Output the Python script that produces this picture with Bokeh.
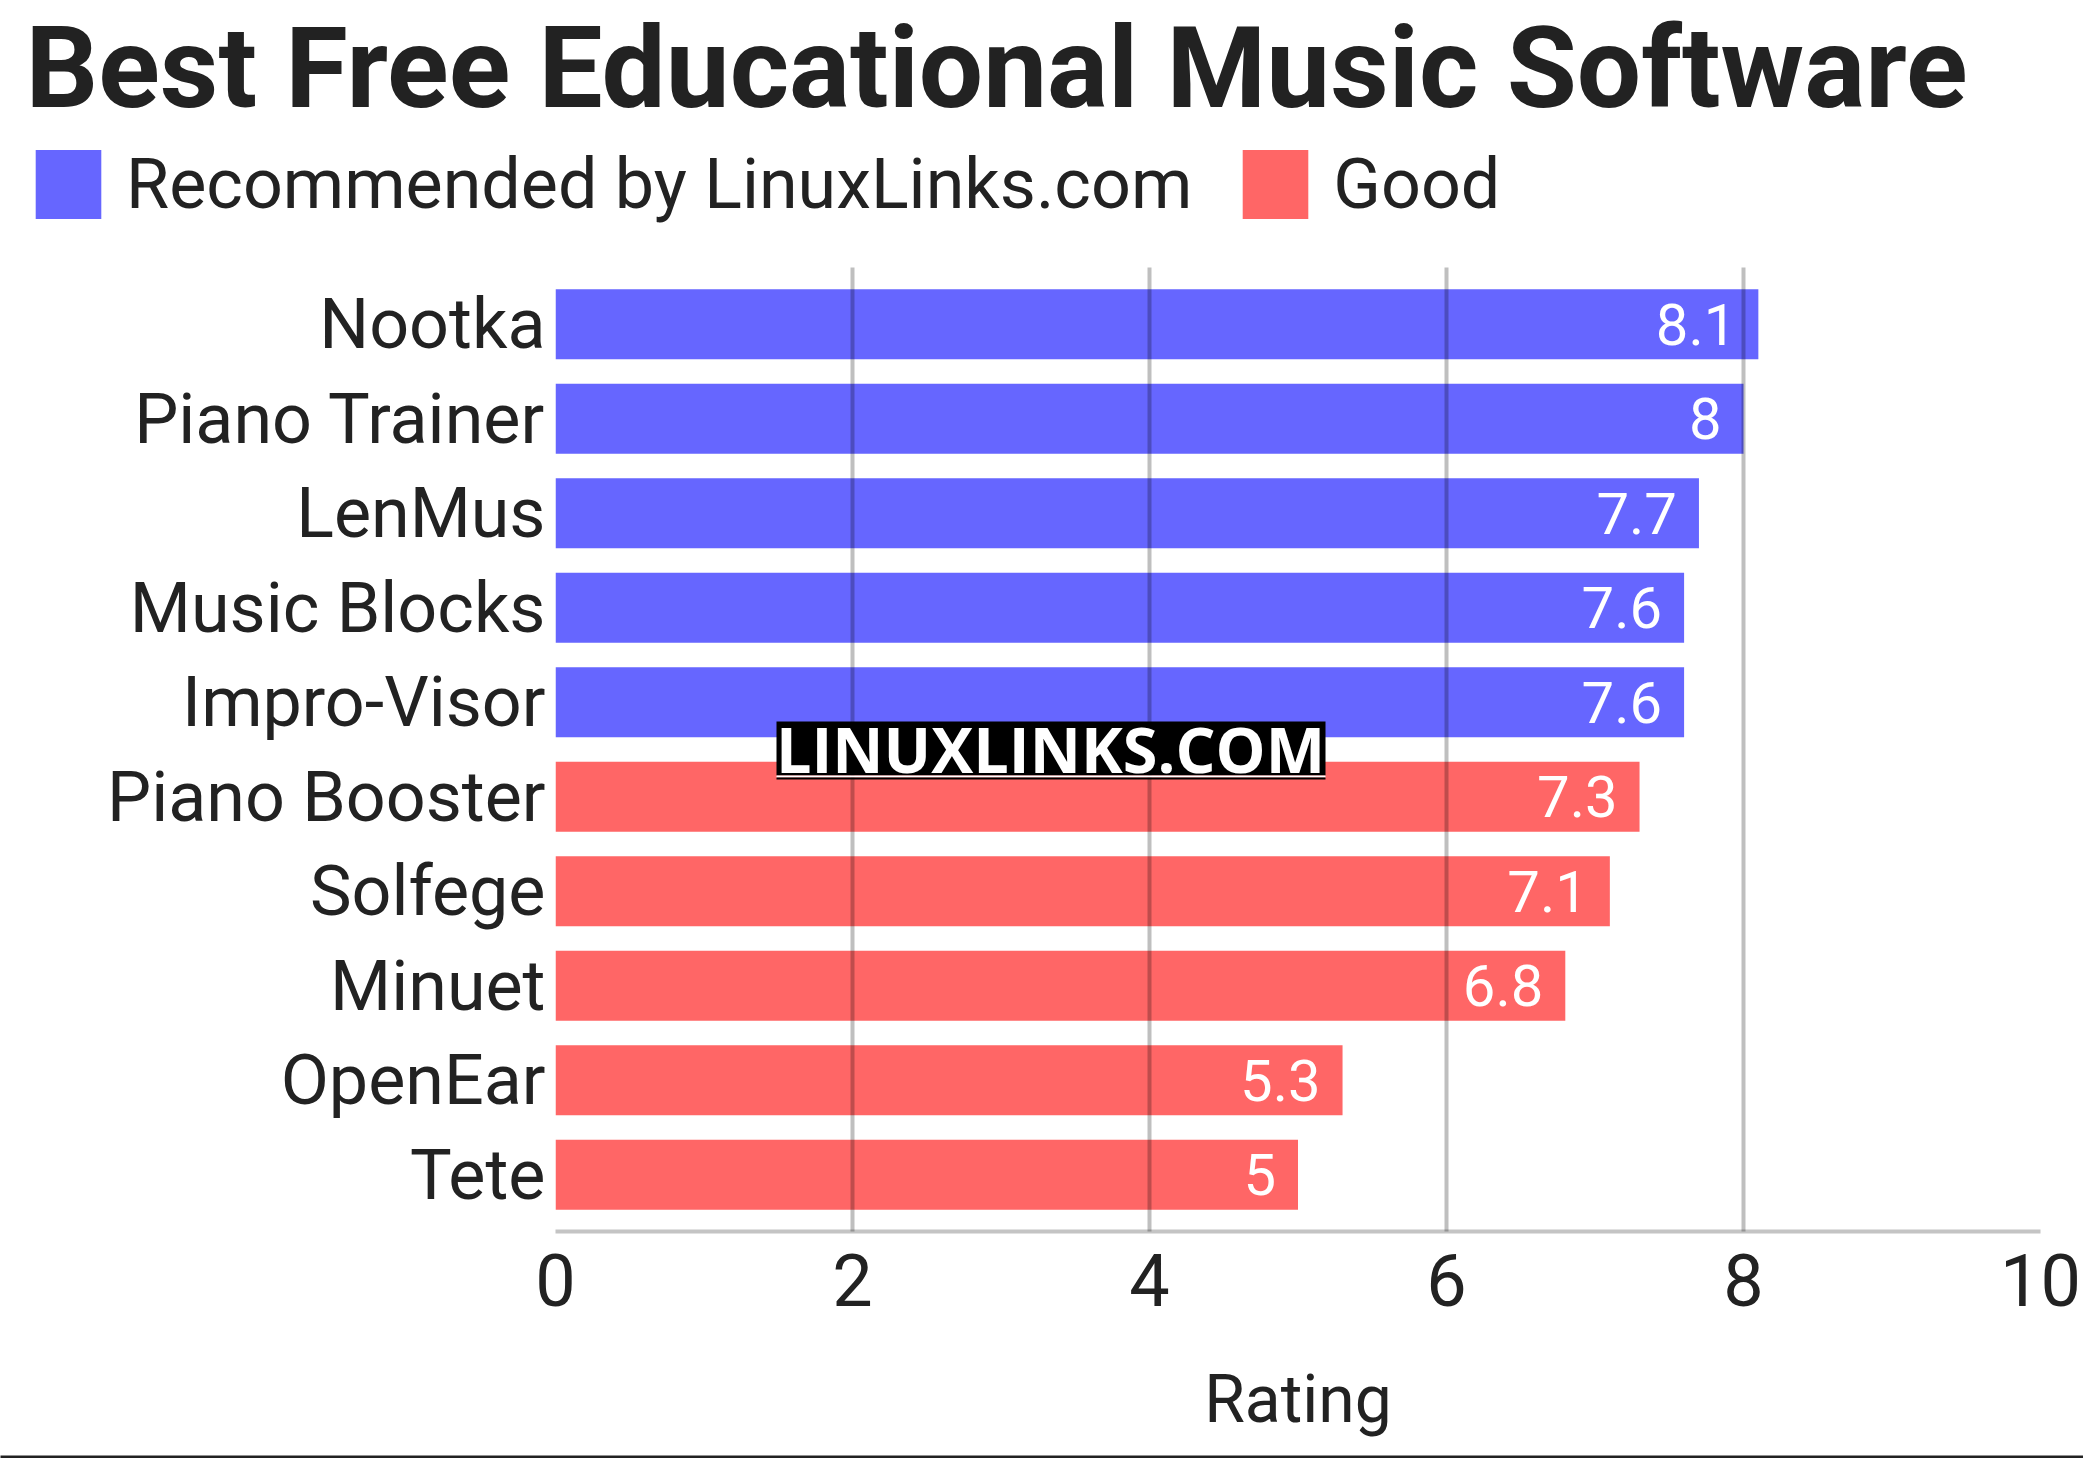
from bokeh.plotting import figure
from bokeh.models import (ColumnDataSource, FactorRange, Range1d, LabelSet, Label,
                          Legend, LegendItem, FixedTicker, BoxAnnotation)
from bokeh.core.properties import value
from bokeh.layouts import column
from bokeh.embed import file_html
from bokeh.resources import INLINE

# ---- data ----
names = ["Nootka", "Piano Trainer", "LenMus", "Music Blocks", "Impro-Visor",
         "Piano Booster", "Solfege", "Minuet", "OpenEar", "Tete"]
ratings = [8.1, 8, 7.7, 7.6, 7.6, 7.3, 7.1, 6.8, 5.3, 5]
groups = ["Recommended by LinuxLinks.com"] * 5 + ["Good"] * 5
x_ticks = [0, 2, 4, 6, 8, 10]
title_text = "Best Free Educational Music Software"
x_label = "Rating"
watermark = "LINUXLINKS.COM"

FONT = "Roboto"
BLUE = "#6666ff"
RED = "#ff6666"
TXT = "#222222"

W = 2083
T = 240            # header figure height
H = 1200           # main figure height
R = 18             # bottom rule figure height
FL, FR, FT, FB = 555, 2040, 27, 991


def bare(fig):
    fig.frame_align = False
    fig.min_border_left = fig.min_border_right = 0
    fig.min_border_top = fig.min_border_bottom = 0
    fig.outline_line_color = None
    fig.grid.visible = False


# ---------------- header (title + legend) ----------------
top = figure(width=W, height=T, output_backend="svg", toolbar_location=None,
             x_range=Range1d(0, W), y_range=Range1d(0, T),
             x_axis_location=None, y_axis_location=None, min_border=0)
bare(top)
top.border_fill_color = "white"

# zero-size swatch renderers used only for the legend keys
lr1 = top.hbar(y=[0], left=[0], right=[0], height=0, fill_color=BLUE, line_color=None)
lr2 = top.hbar(y=[0], left=[0], right=[0], height=0, fill_color=RED, line_color=None)

top.add_layout(Label(x=25, y=173, text=title_text, text_font=FONT,
                     text_font_style="bold", text_font_size="114px",
                     text_color=TXT, text_baseline="alphabetic", text_align="left"))

legend = Legend(items=[LegendItem(label=groups[0], renderers=[lr1]),
                       LegendItem(label=groups[5], renderers=[lr2])],
                orientation="horizontal", location=(27, 13),
                glyph_width=82, glyph_height=86, label_standoff=17, spacing=42,
                padding=0, margin=0, border_line_color=None,
                background_fill_alpha=0, label_text_font=FONT,
                label_text_font_size="70px", label_text_color=TXT)
top.add_layout(legend, "center")

# ---------------- main chart ----------------
p = figure(width=W, height=H, output_backend="svg", toolbar_location=None,
           y_range=FactorRange(factors=names[::-1], range_padding=0.1,
                               range_padding_units="absolute"),
           x_range=Range1d(0, 10))
p.frame_align = False
p.min_border_left = FL
p.min_border_right = W - FR
p.min_border_top = FT
p.min_border_bottom = H - FB
p.outline_line_color = None
p.background_fill_color = "white"
p.border_fill_color = "white"

rec_src = ColumnDataSource(dict(name=names[:5], rating=ratings[:5],
                                lab=[str(v) for v in ratings[:5]]))
good_src = ColumnDataSource(dict(name=names[5:], rating=ratings[5:],
                                 lab=[str(v) for v in ratings[5:]]))

p.hbar(y="name", right="rating", left=0, height=0.74, source=rec_src,
       fill_color=BLUE, line_color=None)
p.hbar(y="name", right="rating", left=0, height=0.74, source=good_src,
       fill_color=RED, line_color=None)

for src in (rec_src, good_src):
    p.add_layout(LabelSet(x="rating", y="name", text="lab", source=src,
                          x_offset=-22, text_align="right", text_baseline="middle",
                          text_color="white", text_font=value(FONT),
                          text_font_size="58px"))

# grid drawn over bars
p.ygrid.grid_line_color = None
p.xgrid.ticker = FixedTicker(ticks=x_ticks)
p.xgrid.grid_line_color = "black"
p.xgrid.grid_line_alpha = 0.25
p.xgrid.grid_line_width = 4
p.xgrid.level = "overlay"

# axes
xa = p.xaxis[0]
xa.ticker = FixedTicker(ticks=x_ticks)
xa.axis_line_color = "#c4c4c4"
xa.axis_line_width = 4
xa.major_tick_line_color = None
xa.minor_tick_line_color = None
xa.major_label_text_font = FONT
xa.major_label_text_font_size = "72px"
xa.major_label_text_color = TXT
xa.major_label_standoff = 16
xa.axis_label = x_label
xa.axis_label_text_font = FONT
xa.axis_label_text_font_size = "66px"
xa.axis_label_text_font_style = "normal"
xa.axis_label_text_color = TXT
xa.axis_label_standoff = 52

ya = p.yaxis[0]
ya.axis_line_color = None
ya.major_tick_line_color = None
ya.minor_tick_line_color = None
ya.major_label_text_font = FONT
ya.major_label_text_font_size = "70px"
ya.major_label_text_color = TXT
ya.major_label_standoff = 4

# watermark (screen units, relative to the plot frame)
for b, t, c in ((456, 510, "black"), (454, 456, "white"), (452, 454, "black")):
    p.add_layout(BoxAnnotation(left=221, right=770, bottom=b, top=t,
                               left_units="screen", right_units="screen",
                               top_units="screen", bottom_units="screen",
                               fill_color=c, fill_alpha=1, line_color=None,
                               level="overlay"))
p.add_layout(Label(x=495, y=483, x_units="screen", y_units="screen",
                   text=watermark, text_font="Open Sans", text_font_style="bold",
                   text_font_size="63px", text_color="white",
                   text_align="center", text_baseline="middle", level="overlay"))

# bottom rule: a short figure whose 3px frame is filled dark
rule = figure(width=W, height=R, output_backend="svg", toolbar_location=None,
              title=None, x_range=Range1d(0, 1), y_range=Range1d(0, 1),
              x_axis_location=None, y_axis_location=None, min_border=0)
bare(rule)
rule.min_border_top = R - 3
rule.background_fill_color = "#222222"
rule.border_fill_color = "white"

layout = column(top, p, rule, spacing=0)
open("out.html", "w").write(file_html(layout, INLINE))
